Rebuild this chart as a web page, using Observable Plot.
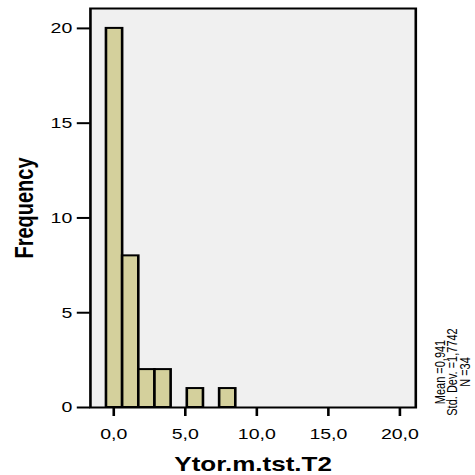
<!DOCTYPE html>
<html><head><meta charset="utf-8">
<script src="https://cdn.jsdelivr.net/npm/d3@7"></script>
<script src="https://cdn.jsdelivr.net/npm/@observablehq/plot@0.6"></script>
<style>html,body{margin:0;padding:0;background:#fff;} #chart svg{display:block;}</style>
</head><body><div id="chart"></div>
<script>
// Histogram data
const binStart = [-0.5, 0.63, 1.76, 2.89, 4.02, 5.15, 6.28, 7.41];
const binEnd   = [0.63, 1.76, 2.89, 4.02, 5.15, 6.28, 7.41, 8.54];
const counts   = [20, 8, 2, 2, 0, 1, 0, 1];
const xTicks = [0, 5, 10, 15, 20];
const yTicks = [0, 5, 10, 15, 20];
const xTitle = "Ytor.m.tst.T2";
const yTitle = "Frequency";
const stats = ["Mean =0,941", "Std. Dev. =1,7742", "N =34"];

const bins = counts.map((c, i) => ({x1: binStart[i], x2: binEnd[i], count: c})).filter(d => d.count > 0);
const S = 1.3;               // the reference is stretched horizontally
const W = Math.round(475 / S);
const fmt = d => d.toFixed(1).replace(".", ",");

const chart = Plot.plot({
  width: W, height: 475,
  marginLeft: 69, marginRight: W - 319, marginTop: 8, marginBottom: 68,
  style: {fontFamily: "'Liberation Sans', Arial, sans-serif", fontSize: "15px", color: "#000", background: "#fff"},
  x: {domain: [-1.63, 21.11]},
  y: {domain: [0, 21.05]},
  marks: [
    Plot.frame({fill: "#f0f0f0", stroke: null}),
    Plot.rect(bins, {x1: "x1", x2: "x2", y1: 0, y2: "count", fill: "#d4d09c", stroke: "#000", strokeWidth: 2}),
    Plot.frame({stroke: "#000", strokeWidth: 2}),
    Plot.axisX(xTicks, {tickSize: 9, tickPadding: 12, tickFormat: fmt, strokeWidth: 2, label: null, fontSize: 15}),
    Plot.axisY(yTicks, {tickSize: 10, tickPadding: 4, strokeWidth: 2, label: null, fontSize: 15}),
    Plot.text([xTitle], {frameAnchor: "bottom", lineAnchor: "bottom", textAnchor: "middle", dy: 63, fontSize: 20, fontWeight: "bold"}),
    Plot.text([yTitle], {frameAnchor: "left", rotate: -90, lineAnchor: "bottom", textAnchor: "middle", dx: -44, fontSize: 20, fontWeight: "bold"}),
    Plot.text([stats.join("\n")], {frameAnchor: "right", rotate: -90, lineAnchor: "middle", textAnchor: "middle", dx: 29, dy: 164, fontSize: 11, lineHeight: 0.85, fontFamily: "'Liberation Sans Narrow', 'Arial Narrow', 'Liberation Sans', sans-serif"})
  ]
});
chart.setAttribute("width", 475);
chart.setAttribute("height", 475);
chart.setAttribute("preserveAspectRatio", "none");
chart.style.width = "475px";
chart.style.height = "475px";
chart.style.maxWidth = "none";
document.getElementById("chart").append(chart);
</script>
</body></html>
